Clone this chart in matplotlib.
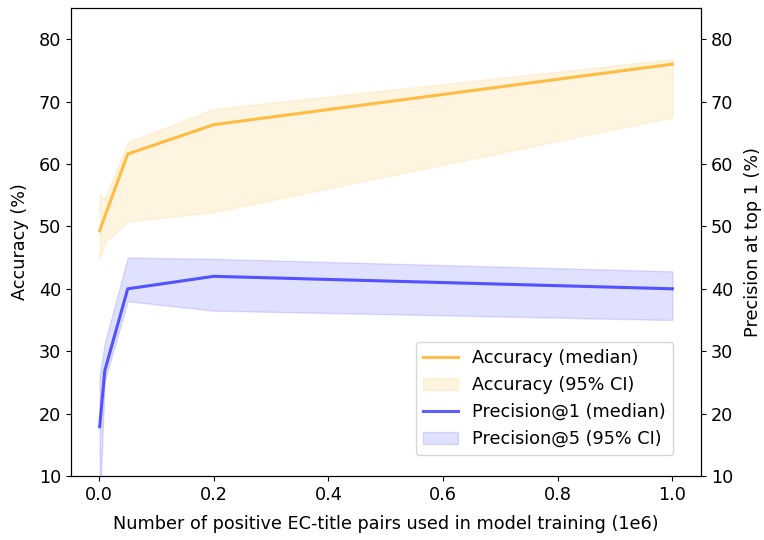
import matplotlib
matplotlib.use("Agg")
import matplotlib.pyplot as plt

# data
n_pairs = [0.001, 0.01, 0.05, 0.2, 1.0]
acc_median = [49.3, 51.6, 61.6, 66.3, 76.0]
acc_lo = [44.8, 47.4, 50.8, 52.3, 67.5]
acc_hi = [55.2, 54.4, 63.5, 68.8, 76.8]
prec_median = [17.9, 26.9, 40.0, 42.0, 40.0]
prec_lo = [5.0, 25.3, 38.0, 36.5, 35.0]
prec_hi = [26.0, 31.3, 45.0, 44.8, 42.8]

fs = 12.7
fig = plt.figure(figsize=(7.64, 5.4), dpi=100)
fig.subplots_adjust(left=71/764, right=701/764, top=1-8/540, bottom=1-476/540)
ax = fig.add_subplot(111)

ax.plot(n_pairs, acc_median, color="orange", alpha=0.7, lw=2.2, label="Accuracy (median)")
ax.fill_between(n_pairs, acc_lo, acc_hi, color="orange", alpha=0.12, label="Accuracy (95% CI)")
ax.plot(n_pairs, prec_median, color="blue", alpha=0.63, lw=2.2, label="Precision@1 (median)")
ax.fill_between(n_pairs, prec_lo, prec_hi, color="blue", alpha=0.12, label="Precision@5 (95% CI)")

ax.set_ylim(10, 85)
ax.set_yticks([10, 20, 30, 40, 50, 60, 70, 80])
ax.set_xticks([0.0, 0.2, 0.4, 0.6, 0.8, 1.0])
ax.tick_params(labelsize=fs)
ax.set_xlabel("Number of positive EC-title pairs used in model training (1e6)", fontsize=fs, labelpad=8)
ax.set_ylabel("Accuracy (%)", fontsize=fs, labelpad=7)
ax.legend(loc="lower right", fontsize=fs, bbox_to_anchor=(0.9556, 0.045), borderaxespad=0)

ax2 = ax.twinx()
ax2.set_ylim(10, 85)
ax2.set_yticks([10, 20, 30, 40, 50, 60, 70, 80])
ax2.tick_params(labelsize=fs)
ax2.set_ylabel("Precision at top 1 (%)", fontsize=fs, labelpad=8)

fig.savefig("out.png", dpi=100)
